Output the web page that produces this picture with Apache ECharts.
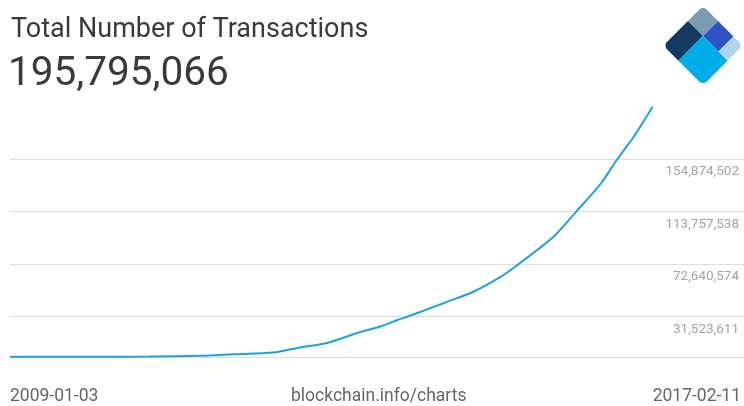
<!DOCTYPE html>
<html>
<head>
<meta charset="utf-8">
<script src="https://cdn.jsdelivr.net/npm/echarts@6/dist/echarts.min.js"></script>
<style>
html,body{margin:0;padding:0;background:#fff;}
#chart{width:744px;height:406px;}
</style>
</head>
<body>
<div id="chart"></div>
<script>
// ---- data ----
const chartTitle = 'Total Number of Transactions';
const headlineValue = '195,795,066';
const sourceLabel = 'blockchain.info/charts';
const dateLabels = ['2009-01-03', '2017-02-11'];
const dates = ['2009-01-03','2010-02-22','2010-10-11','2011-05-29','2011-10-28','2012-04-30','2012-08-31','2013-01-04','2013-06-05','2013-09-05','2013-11-23','2014-02-05','2014-07-11','2014-11-08','2015-03-13','2015-05-30','2015-11-11','2016-03-02','2016-06-16','2016-09-02','2016-11-15','2017-02-11'];
const values = [0, 50000, 120000, 740000, 1900000, 3250000, 7240000, 10800000, 19400000, 23700000, 28800000, 33100000, 43100000, 50900000, 62500000, 71900000, 93800000, 114900000, 135300000, 154900000, 172100000, 195795066];
const yTickValues = [31523611, 72640574, 113757538, 154874502];
const yMin = -9593353;
const yMax = 195991466;
const xMax = '2018-04-08';

function fmt(v) {
  return Math.round(v).toString().replace(/\B(?=(\d{3})+(?!\d))/g, ',');
}

const chart = echarts.init(document.getElementById('chart'), null, {renderer: 'canvas'});
const FONT = 'Roboto';
const S = 56; // logo side
const a = 0.38 * S, b = 0.77 * S;

chart.setOption({
  animation: false,
  backgroundColor: '#fff',
  textStyle: {fontFamily: FONT},
  title: [
    {text: chartTitle, left: 11, top: 17, padding: 0,
     textStyle: {fontFamily: FONT, fontSize: 27, fontWeight: 'normal', color: '#3a3a3a'}},
    {text: headlineValue, left: 8, top: 54, padding: 0,
     textStyle: {fontFamily: FONT, fontSize: 40.5, fontWeight: 'normal', color: '#3a3a3a'}}
  ],
  grid: {left: 10, right: 0, top: 106.5, bottom: 37, containLabel: false},
  xAxis: {
    type: 'time',
    min: dates[0],
    max: xMax,
    axisLine: {show: true, lineStyle: {color: '#dddddd', width: 1}},
    axisTick: {show: false},
    axisLabel: {show: false},
    splitLine: {show: false}
  },
  yAxis: {
    type: 'value',
    position: 'right',
    min: yMin,
    max: yMax,
    axisLine: {show: false},
    axisTick: {show: false, customValues: yTickValues},
    axisLabel: {
      show: true, inside: true, margin: 5,
      customValues: yTickValues,
      formatter: v => fmt(v),
      color: '#a3a3a3', fontSize: 13.5, fontFamily: FONT,
      verticalAlign: 'top', padding: [6, 0, 0, 0]
    },
    splitLine: {show: true, lineStyle: {color: '#dddddd', width: 1}}
  },
  series: [{
    type: 'line',
    data: dates.map((d, i) => [d, values[i]]),
    showSymbol: false,
    smooth: 0.25,
    lineStyle: {color: '#1ca2dd', width: 2},
    itemStyle: {color: '#1ca2dd'}
  }],
  graphic: [
    {type: 'text', left: 10, top: 388,
     style: {text: dateLabels[0], font: '17.5px ' + FONT, fill: '#666'}},
    {type: 'text', right: 3, top: 388,
     style: {text: dateLabels[1], font: '17.5px ' + FONT, fill: '#666'}},
    {type: 'text', left: 291, top: 388,
     style: {text: sourceLabel, font: '17.5px ' + FONT, fill: '#666'}},
    {type: 'group', x: 703, y: 6, rotation: -Math.PI / 4,
     children: [
       {type: 'rect', shape: {x: 0, y: 0, width: a, height: a, r: [5, 0, 0, 0]}, style: {fill: '#7a9db4'}},
       {type: 'rect', shape: {x: a, y: 0, width: b - a, height: a}, style: {fill: '#2f52c4'}},
       {type: 'rect', shape: {x: b, y: 0, width: S - b, height: a, r: [0, 5, 0, 0]}, style: {fill: '#afd4e8'}},
       {type: 'rect', shape: {x: 0, y: a, width: a, height: S - a, r: [0, 0, 0, 5]}, style: {fill: '#123a62'}},
       {type: 'rect', shape: {x: a, y: a, width: S - a, height: S - a, r: [0, 0, 5, 0]}, style: {fill: '#00ade8'}}
     ]}
  ]
});
</script>
</body>
</html>
